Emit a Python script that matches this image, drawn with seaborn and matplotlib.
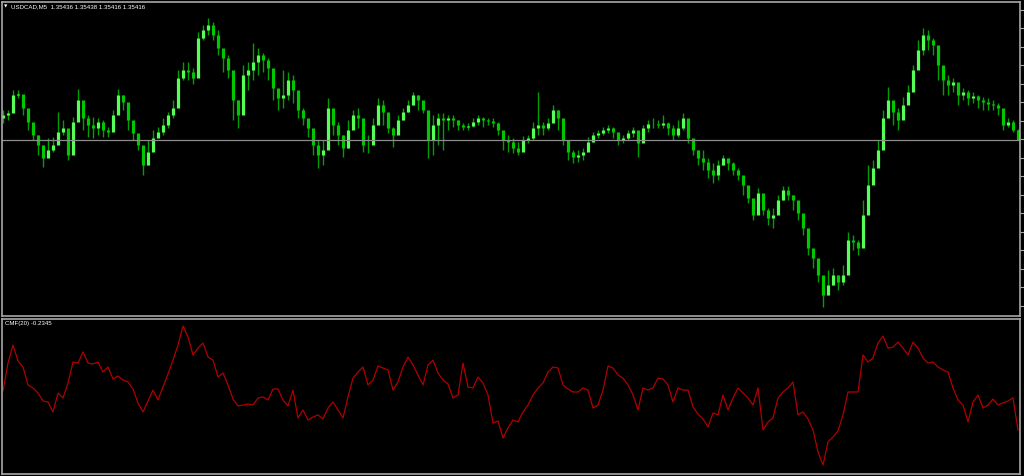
import numpy as np
import pandas as pd
import matplotlib
matplotlib.use("Agg")
import matplotlib.pyplot as plt
import seaborn as sns

# USDCAD M5 bars, prices in points above 1.35000 (1 point = 0.00001)
highs = [476, 476, 516, 516, 500, 466, 446, 426, 406, 420, 422, 472, 456, 416, 462, 518, 490, 466, 462, 460,
         456, 442, 476, 518, 506, 480, 446, 426, 396, 416, 436, 442, 460, 472, 496, 556, 572, 572, 560, 632,
         646, 660, 652, 636, 596, 586, 526, 496, 566, 572, 610, 600, 590, 580, 546, 516, 556, 552, 546, 496,
         480, 456, 436, 416, 416, 500, 466, 452, 426, 456, 476, 480, 436, 426, 460, 500, 496, 456, 442, 466,
         480, 496, 512, 506, 486, 430, 466, 470, 470, 466, 466, 456, 450, 450, 460, 466, 462, 460, 460, 452,
         432, 426, 420, 412, 424, 426, 452, 512, 452, 460, 486, 476, 446, 406, 396, 396, 400, 422, 432, 436,
         442, 446, 442, 422, 426, 436, 442, 430, 446, 456, 460, 456, 466, 452, 446, 456, 470, 456, 416, 396,
         396, 380, 370, 376, 386, 380, 372, 360, 340, 316, 290, 320, 286, 280, 280, 306, 324, 324, 306, 286,
         266, 226, 196, 166, 136, 156, 160, 146, 166, 232, 226, 216, 296, 366, 376, 416, 476, 522, 486, 480,
         502, 526, 566, 616, 640, 636, 620, 586, 560, 546, 540, 520, 520, 516, 512, 506, 502, 500, 496, 490,
         460, 460, 456, 438]
lows = [450, 456, 496, 500, 466, 436, 416, 386, 362, 386, 392, 416, 426, 376, 422, 466, 436, 422, 420, 426,
        422, 422, 436, 476, 476, 436, 416, 396, 346, 366, 396, 422, 426, 440, 460, 516, 536, 536, 528, 586,
        616, 626, 616, 586, 552, 540, 456, 440, 506, 516, 536, 546, 552, 536, 496, 476, 480, 496, 490, 460,
        446, 422, 386, 360, 366, 446, 426, 406, 382, 400, 446, 440, 392, 390, 432, 460, 446, 430, 402, 442,
        456, 472, 486, 476, 470, 380, 386, 406, 396, 436, 442, 436, 436, 436, 442, 446, 442, 446, 442, 426,
        396, 392, 390, 386, 406, 410, 416, 426, 426, 436, 456, 436, 406, 376, 370, 372, 376, 396, 412, 420,
        426, 430, 420, 406, 410, 416, 422, 382, 416, 432, 440, 440, 440, 426, 416, 422, 436, 410, 386, 366,
        356, 340, 330, 336, 366, 356, 346, 336, 306, 290, 256, 286, 266, 246, 240, 276, 296, 296, 276, 256,
        226, 186, 160, 132, 82, 106, 126, 116, 126, 172, 196, 186, 206, 306, 336, 376, 436, 466, 446, 436,
        466, 496, 526, 566, 586, 596, 586, 536, 506, 506, 512, 486, 496, 486, 490, 480, 476, 476, 476, 466,
        436, 442, 432, 416]
closes = [466, 470, 506, 508, 480, 452, 426, 406, 380, 396, 406, 432, 440, 386, 452, 496, 460, 446, 440, 452,
          436, 432, 466, 506, 492, 456, 430, 406, 366, 392, 420, 432, 446, 466, 480, 540, 556, 552, 540, 620,
          636, 646, 626, 600, 580, 556, 496, 466, 546, 556, 572, 586, 576, 560, 520, 500, 506, 536, 516, 476,
          460, 440, 406, 386, 396, 480, 446, 426, 400, 436, 466, 460, 406, 406, 446, 486, 472, 440, 426, 456,
          472, 486, 506, 496, 476, 416, 446, 460, 456, 460, 456, 446, 442, 444, 452, 460, 456, 454, 450, 436,
          416, 412, 400, 392, 416, 420, 440, 446, 440, 450, 476, 460, 416, 392, 382, 386, 392, 412, 426, 430,
          436, 440, 432, 416, 420, 430, 436, 410, 440, 448, 448, 446, 450, 440, 426, 440, 460, 420, 396, 380,
          372, 356, 346, 366, 380, 370, 356, 346, 326, 300, 266, 310, 276, 260, 266, 296, 316, 306, 296, 270,
          240, 200, 180, 146, 106, 126, 146, 132, 146, 216, 212, 200, 266, 326, 360, 396, 460, 496, 472, 456,
          486, 512, 556, 596, 626, 616, 606, 566, 536, 526, 532, 506, 512, 500, 504, 496, 492, 488, 486, 480,
          446, 452, 436, 416]
first_open = 460

# Chaikin Money Flow (20)
cmf = [0.027, 0.213, 0.333, 0.227, 0.187, 0.067, 0.047, 0.013, -0.040, -0.047, -0.113, 0.013, -0.020, 0.080,
       0.220, 0.213, 0.287, 0.213, 0.207, 0.220, 0.153, 0.187, 0.107, 0.127, 0.100, 0.087, 0.040, -0.053,
       -0.113, -0.040, 0.033, -0.033, 0.053, 0.140, 0.233, 0.333, 0.460, 0.387, 0.267, 0.313, 0.347, 0.253,
       0.233, 0.120, 0.147, 0.067, -0.027, -0.073, -0.067, -0.060, -0.067, -0.020, -0.013, -0.033, 0.040,
       0.040, -0.033, -0.073, 0.033, -0.153, -0.100, -0.167, -0.147, -0.133, -0.160, -0.087, -0.047, -0.100,
       -0.153, -0.013, 0.113, 0.153, 0.187, 0.067, 0.100, 0.193, 0.180, 0.167, 0.033, 0.087, 0.187, 0.253,
       0.200, 0.133, 0.067, 0.200, 0.233, 0.147, 0.100, 0.073, -0.020, 0.000, 0.213, 0.053, 0.047, 0.120,
       0.080, 0.000, -0.187, -0.173, -0.287, -0.220, -0.167, -0.180, -0.113, -0.067, 0.000, 0.047, 0.080,
       0.153, 0.187, 0.180, 0.067, 0.040, 0.020, 0.020, 0.047, 0.033, -0.087, -0.067, 0.033, 0.193, 0.180,
       0.133, 0.113, 0.067, 0.000, -0.100, 0.047, 0.033, 0.047, 0.113, 0.107, 0.067, -0.047, 0.047, 0.033,
       0.033, -0.080, -0.127, -0.160, -0.213, -0.120, -0.133, 0.000, -0.100, -0.020, 0.047, 0.013, -0.020,
       -0.067, 0.047, -0.233, -0.180, -0.153, -0.020, 0.020, 0.047, 0.087, -0.133, -0.113, -0.160, -0.233,
       -0.380, -0.467, -0.313, -0.280, -0.240, -0.133, 0.020, 0.020, 0.020, 0.267, 0.220, 0.247, 0.347,
       0.393, 0.313, 0.320, 0.353, 0.313, 0.267, 0.353, 0.313, 0.247, 0.213, 0.220, 0.187, 0.167, 0.153,
       0.047, -0.033, -0.067, -0.180, -0.047, 0.000, -0.087, -0.067, -0.027, -0.067, -0.053, -0.040, -0.020,
       -0.2345]

base = 1.35
bars = pd.DataFrame({"high": highs, "low": lows, "close": closes})
bars["open"] = [first_open] + closes[:-1]
bars = base + bars * 1e-5
bars["bar"] = np.arange(len(bars))
bars["cmf"] = cmf
last = bars.iloc[-1]

sns.set_style("dark", {"axes.facecolor": "black", "figure.facecolor": "black"})
plt.rcParams["font.family"] = ["Liberation Sans", "DejaVu Sans"]

fig = plt.figure(figsize=(10.24, 4.76), dpi=100, facecolor="black")
ax = fig.add_axes([2 / 1024, 1 - 316 / 476, 1018 / 1024, 314 / 476])
ax2 = fig.add_axes([2 / 1024, 2 / 476, 1018 / 1024, 155 / 476], sharex=ax)

frame = "#a8a8a8"
for a in (ax, ax2):
    a.set_facecolor("black")
    a.grid(False)
    for s in a.spines.values():
        s.set_color(frame)
        s.set_linewidth(1.2)

# candles: dark wicks, lighter bodies
up = bars["close"] >= bars["open"]
ax.vlines(bars["bar"], bars["low"], bars["high"], color="#00a000", linewidth=1.0)
ax.vlines(bars["bar"][up], bars["open"][up], bars["close"][up], color="#55ff55", linewidth=2.3)
ax.vlines(bars["bar"][~up], bars["open"][~up], bars["close"][~up], color="#00c800", linewidth=2.3)
ax.axhline(last["close"], color="#8c8c8c", linewidth=0.9)

ax.set_xlim(-0.2, len(bars) - 0.6)
ax.set_ylim(base + 64e-5, base + 692e-5)
ax.yaxis.tick_right()
ax.set_yticks(np.arange(base + 85e-5, base + 692e-5, 37e-5))
ax.tick_params(axis="y", direction="out", length=3, color=frame, labelright=False)
ax.tick_params(axis="x", bottom=False, labelbottom=False)

ax.text(0.0018, 0.992, "\u25bc", transform=ax.transAxes, color="white", fontsize=3.2,
        va="top", ha="left", family="DejaVu Sans")
ax.text(0.0085, 0.994, "USDCAD,M5  %.5f %.5f %.5f %.5f" % (last["open"], last["high"], last["low"], last["close"]),
        transform=ax.transAxes, color="white", fontsize=4.4, va="top", ha="left")

# CMF subwindow
sns.lineplot(data=bars, x="bar", y="cmf", ax=ax2, color="#b00000", linewidth=0.9)
ax2.set_ylim(-0.527, 0.507)
ax2.set_xlabel("")
ax2.set_ylabel("")
ax2.set_yticks([])
ax2.set_xticks(np.arange(-0.2, len(bars), 7))
ax2.tick_params(axis="x", direction="out", length=3, color=frame, labelbottom=False)
ax2.text(0.003, 0.985, "CMF(20) %.4f" % cmf[-1], transform=ax2.transAxes, color="white",
         fontsize=4.4, va="top", ha="left")

fig.savefig("out.png", dpi=100, facecolor="black")
